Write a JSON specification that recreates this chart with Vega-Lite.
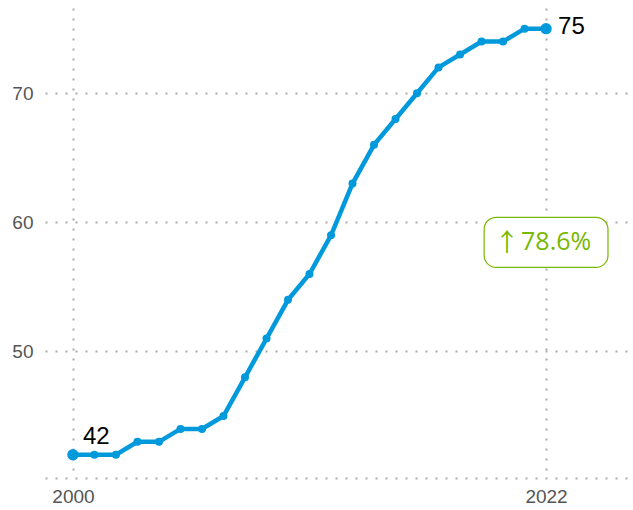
{
  "$schema": "https://vega.github.io/schema/vega-lite/v6.json",
  "autosize": "none",
  "width": 586,
  "height": 470,
  "padding": {"left": 45, "top": 8, "right": 2, "bottom": 32},
  "background": "white",
  "config": {
    "view": {"stroke": null},
    "font": "Liberation Sans"
  },
  "data": {
    "values": [
      {"year": 2000, "value": 42},
      {"year": 2001, "value": 42},
      {"year": 2002, "value": 42},
      {"year": 2003, "value": 43},
      {"year": 2004, "value": 43},
      {"year": 2005, "value": 44},
      {"year": 2006, "value": 44},
      {"year": 2007, "value": 45},
      {"year": 2008, "value": 48},
      {"year": 2009, "value": 51},
      {"year": 2010, "value": 54},
      {"year": 2011, "value": 56},
      {"year": 2012, "value": 59},
      {"year": 2013, "value": 63},
      {"year": 2014, "value": 66},
      {"year": 2015, "value": 68},
      {"year": 2016, "value": 70},
      {"year": 2017, "value": 72},
      {"year": 2018, "value": 73},
      {"year": 2019, "value": 74},
      {"year": 2020, "value": 74},
      {"year": 2021, "value": 75},
      {"year": 2022, "value": 75}
    ]
  },
  "encoding": {
    "x": {
      "field": "year",
      "type": "quantitative",
      "scale": {"domain": [1998.7, 2025.95], "nice": false, "zero": false},
      "axis": {
        "title": null,
        "values": [2000, 2022],
        "format": "d",
        "grid": true,
        "gridColor": "#aaaaaa",
        "gridDash": [2, 8],
        "gridWidth": 2,
        "domain": true,
        "domainColor": "#aaaaaa",
        "domainDash": [2, 8],
        "domainWidth": 2,
        "ticks": false,
        "labelPadding": 9,
        "labelFontSize": 19,
        "labelColor": "#555555",
        "labelFont": "Liberation Sans"
      }
    },
    "y": {
      "field": "value",
      "type": "quantitative",
      "scale": {"domain": [40.2, 76.6], "nice": false, "zero": false},
      "axis": {
        "title": null,
        "values": [50, 60, 70],
        "grid": true,
        "gridColor": "#aaaaaa",
        "gridDash": [2, 8],
        "gridWidth": 2,
        "domain": false,
        "ticks": false,
        "labelPadding": 12,
        "labelFontSize": 19,
        "labelColor": "#555555",
        "labelFont": "Liberation Sans"
      }
    }
  },
  "layer": [
    {
      "mark": {"type": "line", "color": "#0099dc", "strokeWidth": 4.5}
    },
    {
      "mark": {"type": "point", "filled": true, "opacity": 1, "color": "#0099dc", "size": 64}
    },
    {
      "transform": [{"filter": "datum.year == 2000 || datum.year == 2022"}],
      "mark": {"type": "point", "filled": true, "opacity": 1, "color": "#0099dc", "size": 130}
    },
    {
      "transform": [{"filter": "datum.year == 2000"}],
      "mark": {"type": "text", "align": "left", "baseline": "middle", "dx": 10, "dy": -18, "fontSize": 24, "color": "black", "font": "Liberation Sans"},
      "encoding": {"text": {"field": "value", "type": "quantitative"}}
    },
    {
      "transform": [{"filter": "datum.year == 2022"}],
      "mark": {"type": "text", "align": "left", "baseline": "middle", "dx": 12, "dy": -2, "fontSize": 24, "color": "black", "font": "Liberation Sans"},
      "encoding": {"text": {"field": "value", "type": "quantitative"}}
    },
    {
      "data": {"values": [{"x1": 2019.12, "x2": 2024.88, "y1": 60.39, "y2": 56.51, "arrow": "↑", "label": "78.6%", "xc": 2022, "yc": 58.45}]},
      "layer": [
        {
          "mark": {"type": "rect", "fill": "white", "stroke": "#78b800", "strokeWidth": 1.2, "cornerRadius": 12},
          "encoding": {
            "x": {"field": "x1", "type": "quantitative"},
            "x2": {"field": "x2"},
            "y": {"field": "y1", "type": "quantitative"},
            "y2": {"field": "y2"}
          }
        },
        {
          "mark": {"type": "text", "align": "center", "baseline": "middle", "dx": -39, "dy": 1, "fontSize": 25, "color": "#78b800", "font": "Noto Sans CJK SC"},
          "encoding": {
            "x": {"field": "xc", "type": "quantitative"},
            "y": {"field": "yc", "type": "quantitative"},
            "text": {"field": "arrow"}
          }
        },
        {
          "mark": {"type": "text", "align": "left", "baseline": "middle", "dx": -25, "fontSize": 25, "color": "#78b800", "font": "Open Sans"},
          "encoding": {
            "x": {"field": "xc", "type": "quantitative"},
            "y": {"field": "yc", "type": "quantitative"},
            "text": {"field": "label"}
          }
        }
      ]
    }
  ]
}
